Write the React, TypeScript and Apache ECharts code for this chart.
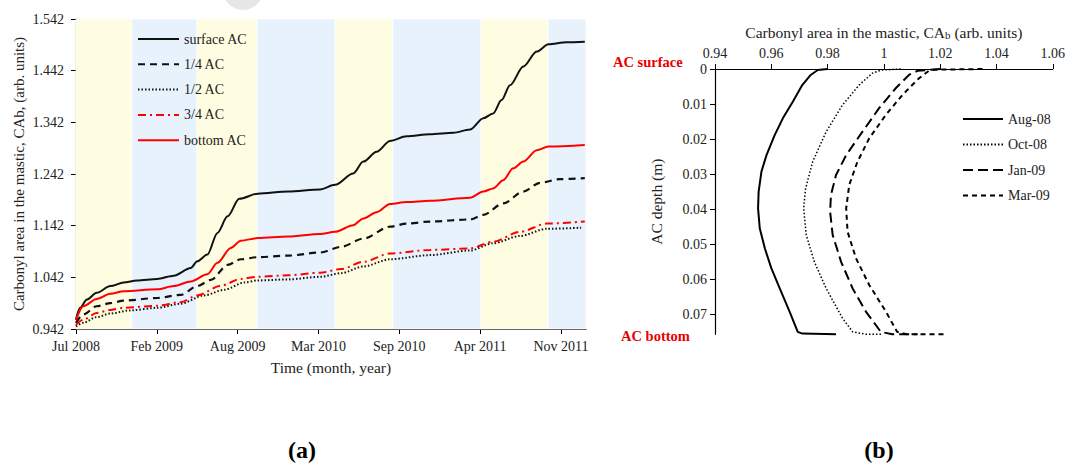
import React, { useEffect, useRef } from "react";
import * as echarts from "echarts";

// ---------- Panel (a): CAb vs time (days since start, Jul 2008) ----------
const timeTickDays = [0, 200, 400, 600, 800, 1000, 1200];
const timeTickLabels = ["Jul 2008", "Feb 2009", "Aug 2009", "Mar 2010", "Sep 2010", "Apr 2011", "Nov 2011"];
const caTicks = [0.942, 1.042, 1.142, 1.242, 1.342, 1.442, 1.542];
// season band edges (days): warm, cold, warm, cold ...
const seasonEdges = [0, 138, 299, 448, 641, 784, 1002, 1168, 1262];

const surfaceAC = [[0,0.960],[10,0.983],[27,0.999],[51,1.012],[85,1.025],[118,1.032],[151,1.036],[201,1.039],[242,1.045],[284,1.060],[300,1.073],[325,1.086],[350,1.128],[375,1.160],[404,1.194],[450,1.204],[525,1.208],[604,1.212],[641,1.221],[686,1.243],[711,1.266],[744,1.285],[777,1.306],[818,1.315],[876,1.319],[934,1.322],[975,1.328],[1008,1.350],[1032,1.359],[1053,1.385],[1074,1.414],[1107,1.450],[1140,1.479],[1169,1.493],[1214,1.497],[1259,1.498]];
const quarterAC = [[0,0.954],[18,0.970],[51,0.986],[85,0.992],[118,0.997],[201,1.002],[259,1.008],[300,1.025],[334,1.037],[375,1.066],[408,1.077],[450,1.081],[525,1.084],[604,1.090],[656,1.101],[711,1.117],[777,1.140],[818,1.146],[876,1.150],[975,1.154],[1008,1.163],[1057,1.185],[1107,1.208],[1148,1.225],[1197,1.232],[1259,1.234]];
const halfAC = [[0,0.947],[18,0.954],[51,0.965],[85,0.972],[134,0.978],[201,0.983],[259,0.991],[317,1.007],[367,1.018],[417,1.032],[450,1.036],[525,1.038],[604,1.043],[656,1.050],[711,1.063],[777,1.077],[876,1.085],[975,1.094],[1032,1.108],[1098,1.122],[1165,1.136],[1250,1.138]];
const threeQuarterAC = [[0,0.950],[18,0.960],[51,0.973],[85,0.979],[118,0.983],[201,0.987],[259,0.994],[300,1.007],[359,1.026],[408,1.039],[450,1.043],[525,1.046],[604,1.051],[656,1.058],[711,1.072],[777,1.088],[876,1.095],[975,1.098],[1032,1.111],[1098,1.130],[1165,1.146],[1259,1.150]];
const bottomAC = [[0,0.960],[18,0.986],[51,1.000],[85,1.010],[118,1.015],[201,1.019],[242,1.025],[284,1.034],[325,1.048],[350,1.070],[383,1.099],[408,1.113],[450,1.118],[525,1.121],[604,1.126],[641,1.130],[686,1.143],[711,1.156],[744,1.168],[777,1.184],[818,1.188],[876,1.190],[975,1.196],[1008,1.208],[1032,1.214],[1057,1.230],[1082,1.253],[1107,1.266],[1140,1.288],[1169,1.295],[1259,1.298]];

// ---------- Panel (b): CAb vs AC depth ----------
const caTicksB = [0.94, 0.96, 0.98, 1, 1.02, 1.04, 1.06];
const depthTicks = [0, 0.01, 0.02, 0.03, 0.04, 0.05, 0.06, 0.07];
const aug08 = [[0.980,0],[0.9765,0.0003],[0.974,0.0017],[0.971,0.0046],[0.9677,0.0093],[0.9641,0.0141],[0.9612,0.0189],[0.9583,0.0246],[0.9565,0.0293],[0.9555,0.0351],[0.9553,0.0398],[0.9559,0.0455],[0.9577,0.0512],[0.960,0.0569],[0.963,0.0627],[0.9665,0.0693],[0.9694,0.0751],[0.971,0.0756],[0.983,0.0758]];
const oct08 = [[1.006,0],[0.999,0.0003],[0.9959,0.0012],[0.9912,0.0046],[0.9853,0.0103],[0.9795,0.0179],[0.9747,0.0265],[0.9722,0.0341],[0.9715,0.0398],[0.9724,0.0474],[0.9753,0.0551],[0.9795,0.0627],[0.9853,0.0712],[0.9889,0.0751],[0.9936,0.0758],[0.999,0.0758]];
const jan09 = [[1.020,0],[1.012,0.0005],[1.0089,0.0017],[1.0042,0.0055],[0.9983,0.0112],[0.9924,0.0179],[0.9866,0.0246],[0.983,0.0303],[0.9812,0.036],[0.9809,0.0408],[0.9818,0.0474],[0.9848,0.0551],[0.9889,0.0627],[0.9936,0.0693],[0.9989,0.0751],[1.003,0.0758],[1.012,0.0758]];
const mar09 = [[1.035,0],[1.018,0.0002],[1.016,0.0005],[1.0124,0.0027],[1.0066,0.0074],[1.0007,0.0131],[0.9948,0.0198],[0.9906,0.0265],[0.9877,0.0331],[0.9866,0.0398],[0.9871,0.0465],[0.9901,0.0541],[0.9948,0.0617],[1.0007,0.0693],[1.0047,0.0751],[1.008,0.0758],[1.022,0.0758]];

const FONT = "Liberation Serif";
const TXT = "#222";

export default function App() {
  const ref = useRef<HTMLDivElement>(null);
  useEffect(() => {
    if (!ref.current) return;
    const chart = echarts.init(ref.current, undefined, { renderer: "svg" });
    const bands: any[] = [];
    for (let i = 0; i < seasonEdges.length - 1; i++) {
      bands.push([
        { xAxis: seasonEdges[i], itemStyle: { color: i % 2 === 0 ? "#FFFDE1" : "#E8F2FC", borderColor: "#fff", borderWidth: 0.8 } },
        { xAxis: seasonEdges[i + 1] },
      ]);
    }
    const lineA = (name: string, data: number[][], color: string, type: any, width = 2) => ({
      name, type: "line", xAxisIndex: 0, yAxisIndex: 0, data, symbol: "none", showSymbol: false,
      smooth: 0.3, smoothMonotone: "x", z: 3,
      lineStyle: { color, type, width }, itemStyle: { color },
    });
    const lineB = (name: string, data: number[][], type: any, width = 2) => ({
      name, type: "line", xAxisIndex: 1, yAxisIndex: 1, data, symbol: "none", showSymbol: false,
      clip: false, z: 3,
      lineStyle: { color: "#000", type, width }, itemStyle: { color: "#000" },
    });
    const axisCommon = {
      axisLine: { show: true, lineStyle: { color: "#000", width: 1.2 } },
      splitLine: { show: false },
    };
    const option: any = {
      animation: false,
      backgroundColor: "#fff",
      textStyle: { fontFamily: FONT },
      grid: [
        { left: 76, top: 19, width: 510, height: 310 },
        { left: 715, top: 69, width: 340, height: 265.3 },
      ],
      legend: [
        {
          data: ["surface AC", "1/4 AC", "1/2 AC", "3/4 AC", "bottom AC"],
          orient: "vertical", left: 137, top: 32, padding: 0, itemWidth: 41, itemHeight: 14, itemGap: 11.3,
          itemStyle: { opacity: 0 },
          textStyle: { fontFamily: FONT, fontSize: 14, color: TXT },
        },
        {
          data: ["Aug-08", "Oct-08", "Jan-09", "Mar-09"],
          orient: "vertical", left: 962, top: 112, padding: 0, itemWidth: 40, itemHeight: 14, itemGap: 11.5,
          itemStyle: { opacity: 0 },
          textStyle: { fontFamily: FONT, fontSize: 14, color: TXT },
        },
      ],
      xAxis: [
        {
          ...axisCommon, gridIndex: 0, type: "value", min: 0, max: 1262,
          axisTick: { show: true, customValues: timeTickDays, length: 5, lineStyle: { color: "#000" } },
          axisLabel: {
            customValues: timeTickDays, margin: 10, fontSize: 14, color: TXT, fontFamily: FONT,
            formatter: (v: number) => { const i = timeTickDays.indexOf(v); return i >= 0 ? timeTickLabels[i] : ""; },
          },
          name: "Time (month, year)", nameLocation: "middle", nameGap: 30,
          nameTextStyle: { fontSize: 15.5, color: TXT, fontFamily: FONT },
        },
        {
          ...axisCommon, gridIndex: 1, type: "value", position: "top", min: 0.94, max: 1.06,
          axisTick: { show: true, customValues: caTicksB, length: 5, lineStyle: { color: "#000" } },
          axisLabel: {
            customValues: caTicksB, margin: 9, fontSize: 14, color: TXT, fontFamily: FONT,
            formatter: (v: number) => String(+v.toFixed(2)),
          },
          name: "Carbonyl area in the mastic, CA{s|b} (arb. units)", nameLocation: "middle", nameGap: 29,
          nameTextStyle: { fontSize: 15.5, color: TXT, fontFamily: FONT, rich: { s: { fontSize: 11, color: TXT, fontFamily: FONT, padding: [5, 0, 0, 0] } } },
        },
      ],
      yAxis: [
        {
          ...axisCommon, gridIndex: 0, type: "value", min: 0.942, max: 1.542,
          axisTick: { show: true, customValues: caTicks, length: 5, lineStyle: { color: "#000" } },
          axisLabel: {
            customValues: caTicks, margin: 12, fontSize: 14, color: TXT, fontFamily: FONT,
            formatter: (v: number) => v.toFixed(3),
          },
          name: "Carbonyl area in the mastic, CAb, (arb. units)", nameLocation: "middle", nameGap: 50,
          nameTextStyle: { fontSize: 15, color: TXT, fontFamily: FONT },
        },
        {
          ...axisCommon, gridIndex: 1, type: "value", inverse: true, min: 0, max: 0.0758,
          axisTick: { show: true, customValues: depthTicks, length: 5, lineStyle: { color: "#000" } },
          axisLabel: {
            customValues: depthTicks, margin: 8, fontSize: 14, color: TXT, fontFamily: FONT,
            formatter: (v: number) => String(+v.toFixed(2)),
          },
          name: "AC depth (m)", nameLocation: "middle", nameGap: 51,
          nameTextStyle: { fontSize: 15.5, color: TXT, fontFamily: FONT },
        },
      ],
      series: [
        {
          name: "seasons", type: "line", xAxisIndex: 0, yAxisIndex: 0, data: [[0, 0.942]],
          symbol: "none", lineStyle: { opacity: 0 }, z: 1, silent: true,
          markArea: { silent: true, data: bands },
        },
        lineA("surface AC", surfaceAC, "#111", "solid", 2),
        lineA("1/4 AC", quarterAC, "#111", [7, 5], 2.2),
        lineA("1/2 AC", halfAC, "#111", [1.5, 2], 2),
        lineA("3/4 AC", threeQuarterAC, "#f00", [8, 4, 2, 4], 2),
        lineA("bottom AC", bottomAC, "#f00", "solid", 2),
        lineB("Aug-08", aug08, "solid", 2),
        lineB("Oct-08", oct08, [1.5, 2], 1.5),
        lineB("Jan-09", jan09, [10, 5], 2),
        lineB("Mar-09", mar09, [5, 4], 2),
      ],
      graphic: [
        { type: "circle", shape: { cx: 243, cy: -10, r: 20 }, style: { fill: "#e6e6e6" }, silent: true },
        { type: "text", x: 613, y: 62, style: { text: "AC surface", fill: "#e60000", font: `bold 14.5px "${FONT}"`, textVerticalAlign: "middle" } },
        { type: "text", x: 621, y: 336, style: { text: "AC bottom", fill: "#e60000", font: `bold 14.5px "${FONT}"`, textVerticalAlign: "middle" } },
        { type: "text", x: 302, y: 450, style: { text: "(a)", fill: "#000", font: `bold 24px "${FONT}"`, textAlign: "center", textVerticalAlign: "middle" } },
        { type: "text", x: 879, y: 450, style: { text: "(b)", fill: "#000", font: `bold 24px "${FONT}"`, textAlign: "center", textVerticalAlign: "middle" } },
      ],
    };
    chart.setOption(option);
    return () => chart.dispose();
  }, []);
  return <div ref={ref} style={{ position: "fixed", left: 0, top: 0, width: 1068, height: 463, background: "#fff" }} />;
}
